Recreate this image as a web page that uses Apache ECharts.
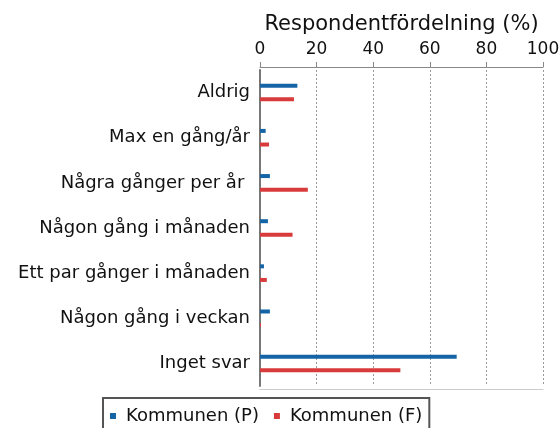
<!DOCTYPE html>
<html>
<head>
<meta charset="utf-8">
<script src="https://cdn.jsdelivr.net/npm/echarts@6/dist/echarts.min.js"></script>
<style>
  html, body { margin: 0; padding: 0; background: #fff; }
  #chart { width: 560px; height: 428px; }
</style>
</head>
<body>
<div id="chart"></div>
<script>
// svarsalternativ, uppifrån och ned
const categories = [
  'Aldrig',
  'Max en gång/år',
  'Några gånger per år ',
  'Någon gång i månaden',
  'Ett par gånger i månaden',
  'Någon gång i veckan',
  'Inget svar'
];
const seriesNames = ['Kommunen (P)', 'Kommunen (F)'];
const valuesP = [13.2, 2.0, 3.5, 2.8, 1.4, 3.5, 69.5];
const valuesF = [12.0, 3.2, 16.9, 11.5, 2.4, 0.3, 49.6];
const xTicks = [0, 20, 40, 60, 80, 100];

const chart = echarts.init(document.getElementById('chart'));

const font = 'DejaVu Sans';

const option = {
  backgroundColor: '#fff',
  animation: false,
  grid: {
    left: 260,
    right: 17,
    top: 70,
    bottom: 42,
    outerBoundsMode: 'none'
  },
  legend: {
    data: seriesNames,
    left: 103,
    top: 398,
    padding: [9, 7, 20, 7],
    itemGap: 15,
    itemWidth: 6,
    itemHeight: 6,
    icon: 'rect',
    borderColor: '#555',
    borderWidth: 2,
    textStyle: {
      fontFamily: font,
      fontSize: 18,
      color: '#111',
      padding: [0, 0, 0, 5]
    }
  },
  xAxis: [
    {
      type: 'value',
      position: 'top',
      offset: 3,
      min: xTicks[0],
      max: xTicks[xTicks.length - 1],
      interval: 20,
      name: 'Respondentfördelning (%)',
      nameLocation: 'middle',
      nameGap: 32,
      nameTextStyle: {
        fontFamily: font,
        fontSize: 21,
        color: '#111'
      },
      axisLine: { show: true, lineStyle: { color: '#888', width: 1 } },
      axisTick: { show: true, length: 5, lineStyle: { color: '#888' } },
      axisLabel: {
        fontFamily: font,
        fontSize: 17,
        color: '#111',
        margin: 9
      },
      splitLine: {
        show: true,
        lineStyle: { color: '#999', type: [2, 2], width: 1 }
      }
    },
    {
      type: 'value',
      position: 'bottom',
      offset: 3,
      min: 0,
      max: 100,
      interval: 20,
      axisLine: { show: true, onZero: false, lineStyle: { color: '#ccc', width: 1 } },
      axisTick: { show: false },
      axisLabel: { show: false },
      splitLine: { show: false }
    }
  ],
  yAxis: {
    type: 'category',
    data: categories,
    inverse: true,
    axisLine: { show: true, lineStyle: { color: '#777', width: 2 } },
    axisTick: { show: false },
    axisLabel: {
      fontFamily: font,
      fontSize: 18,
      color: '#111',
      margin: 10
    }
  },
  series: [
    {
      name: seriesNames[0],
      type: 'bar',
      data: valuesP,
      barWidth: 4,
      barGap: '240%',
      itemStyle: { color: '#1565a6' }
    },
    {
      name: seriesNames[1],
      type: 'bar',
      data: valuesF,
      barWidth: 4,
      barGap: '240%',
      itemStyle: { color: '#d83b3b' }
    }
  ]
};

chart.setOption(option);
</script>
</body>
</html>
